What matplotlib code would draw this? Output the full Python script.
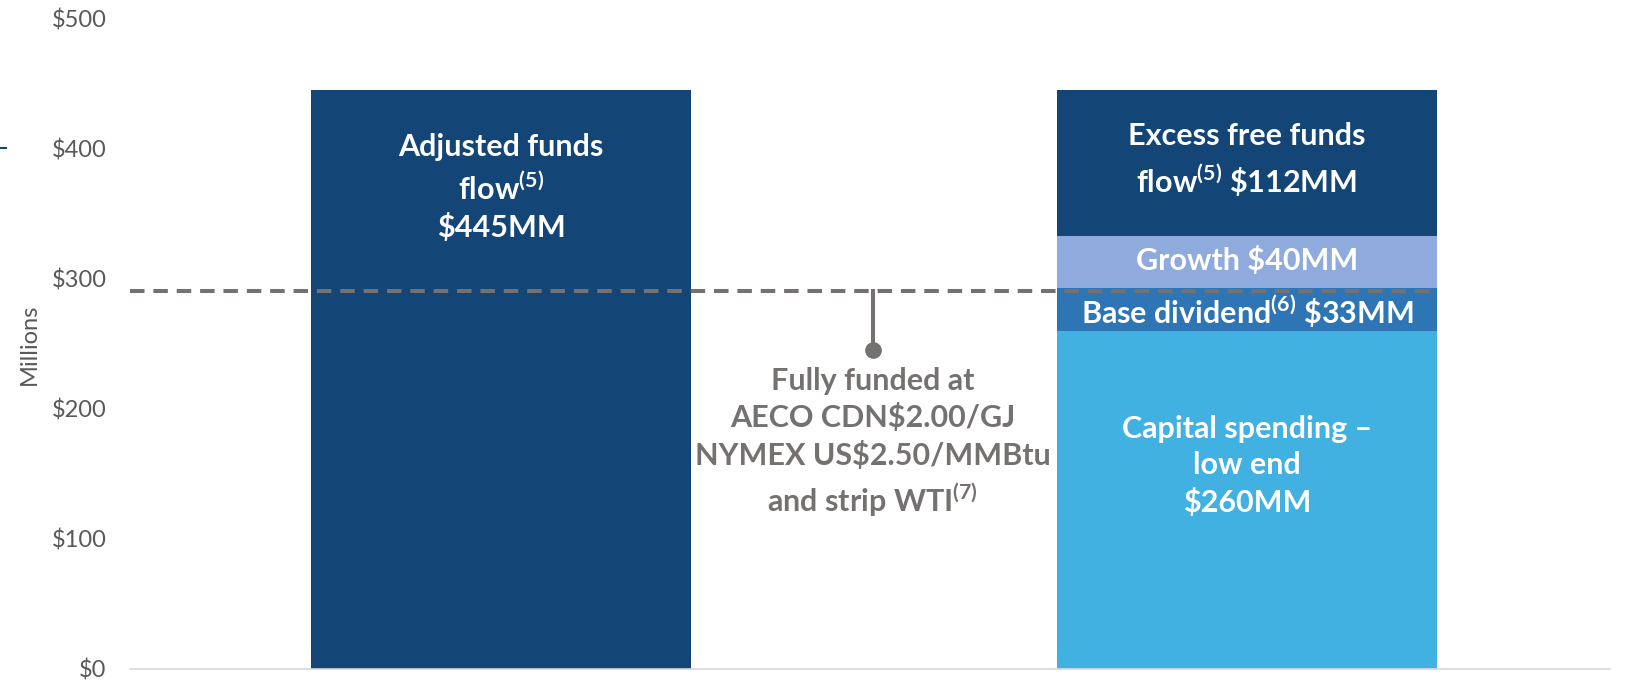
import matplotlib
matplotlib.use("Agg")
import matplotlib.pyplot as plt
from matplotlib.lines import Line2D

plt.rcParams["font.family"] = ["Lato", "DejaVu Sans"]
plt.rcParams["mathtext.fontset"] = "custom"
plt.rcParams["mathtext.rm"] = "Lato"
plt.rcParams["mathtext.bf"] = "Lato:bold"

# data (millions CAD)
categories = ["Adjusted funds flow", "Uses"]
afff_total = [445]
stack_names = ["Capital spending", "Base dividend", "Growth", "Excess free funds flow"]
stack_values = [260, 33, 40, 112]
funded_level = 291
marker_level = 245
y_ticks = [0, 100, 200, 300, 400, 500]
y_tick_labels = ["$0", "$100", "$200", "$300", "$400", "$500"]

NAVY = "#134676"
stack_colors = ["#41B1E1", "#2E75B6", "#8FAADC", NAVY]
GREY = "#767171"
TICK = "#595959"

fig = plt.figure(figsize=(16.29, 6.85), dpi=100)
ax = fig.add_axes([0.0798, 0.0234, 0.9085, 0.9493])

bw = 0.51
ax.bar(0, afff_total[0], width=bw, color=NAVY, zorder=2)
bottom = 0
for v, c in zip(stack_values, stack_colors):
    ax.bar(1, v, width=bw, bottom=bottom, color=c, zorder=2)
    bottom += v

ax.set_xlim(-0.498, 1.487)
ax.set_ylim(0, 500)
ax.set_yticks(y_ticks)
ax.set_yticklabels(y_tick_labels, fontsize=17, color=TICK)
ax.tick_params(axis="y", length=0, pad=17)
ax.set_xticks([])
for s in ["top", "right", "left"]:
    ax.spines[s].set_visible(False)
ax.spines["bottom"].set_color("#D9D9D9")
ax.spines["bottom"].set_linewidth(1.2)
ax.set_ylabel("Millions", fontsize=17, color=TICK, labelpad=8)

# fully funded line + callout
ax.plot([-0.498, 1.25], [funded_level, funded_level], color=GREY, lw=2.9,
        dashes=(3.6, 2.2), zorder=3)
ax.plot([0.498, 0.498], [funded_level, marker_level], color=GREY, lw=2.9, zorder=3)
ax.plot(0.498, marker_level, "o", color=GREY, ms=11, zorder=3)
ax.text(0.498, 232, "Fully funded at\nAECO CDN\\$2.00/GJ\nNYMEX US\\$2.50/MMBtu\n"
        "and strip WTI$^{\\mathbf{(7)}}$",
        ha="center", va="top", fontsize=22, fontweight="bold", color=GREY,
        linespacing=1.34)

lab = dict(ha="center", va="center", fontsize=22, fontweight="bold", color="white",
           linespacing=1.36, zorder=4)
ax.text(0, 370, "Adjusted funds\nflow$^{\\mathbf{(5)}}$\n\\$445MM", **lab)
ax.text(1, 391, "Excess free funds\nflow$^{\\mathbf{(5)}}$ \\$112MM", **lab)
ax.text(1, 314, "Growth \\$40MM", **lab)
ax.text(1, 275, "Base dividend$^{\\mathbf{(6)}}$ \\$33MM", **lab)
ax.text(1, 156, "Capital spending \u2013\nlow end\n\\$260MM", **lab)

fig.add_artist(Line2D([0, 0.0035], [1 - 148 / 685, 1 - 148 / 685], color=NAVY, lw=1.5))

fig.savefig("out.png", dpi=100)
